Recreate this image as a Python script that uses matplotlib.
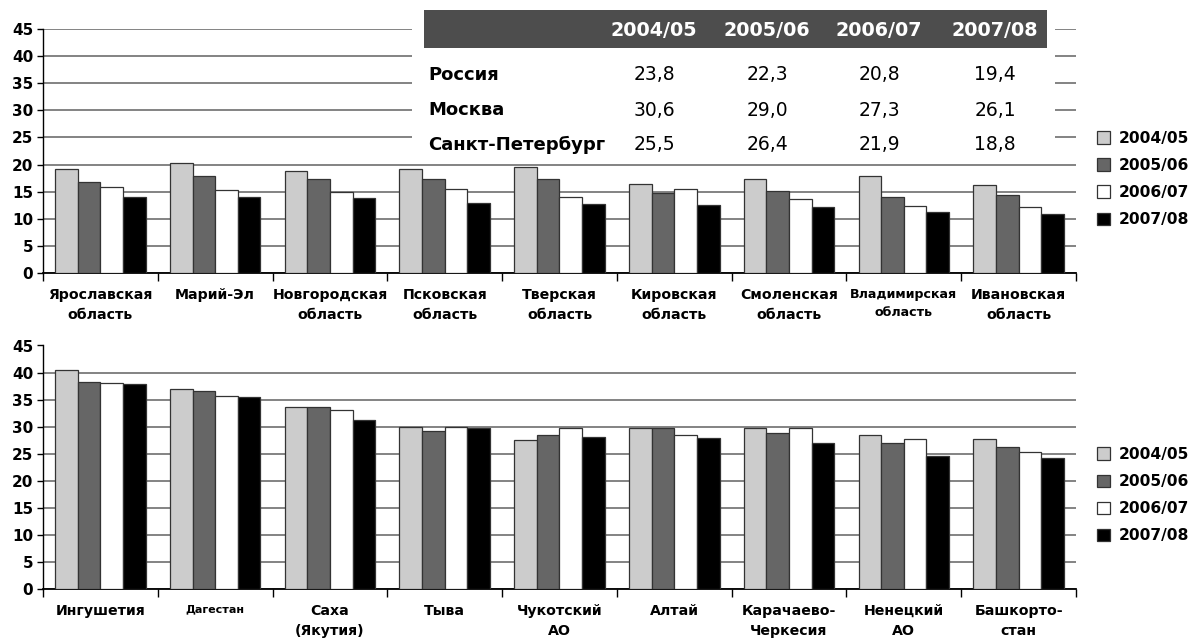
import matplotlib
matplotlib.use("Agg")
import matplotlib.pyplot as plt
from matplotlib.patches import Rectangle
import numpy as np

# seasons (legend + table header)
seasons = ["2004/05", "2005/06", "2006/07", "2007/08"]
colors = ["#cccccc", "#666666", "#ffffff", "#000000"]

# upper chart: lowest values
top_regions = ["Ярославская\nобласть", "Марий-Эл", "Новгородская\nобласть",
               "Псковская\nобласть", "Тверская\nобласть", "Кировская\nобласть",
               "Смоленская\nобласть", "Владимирская\nобласть", "Ивановская\nобласть"]
top_0405 = [19.2, 20.2, 18.9, 19.2, 19.5, 16.5, 17.4, 17.8, 16.2]
top_0506 = [16.8, 17.8, 17.4, 17.4, 17.3, 14.7, 15.1, 14.1, 14.4]
top_0607 = [15.8, 15.3, 14.9, 15.5, 14.1, 15.5, 13.7, 12.3, 12.2]
top_0708 = [14.1, 14.1, 13.8, 13.0, 12.8, 12.5, 12.2, 11.2, 10.9]

# lower chart: highest values
bot_regions = ["Ингушетия", "Дагестан", "Саха\n(Якутия)", "Тыва", "Чукотский\nАО",
               "Алтай", "Карачаево-\nЧеркесия", "Ненецкий\nАО", "Башкорто-\nстан"]
bot_0405 = [40.4, 36.9, 33.7, 29.9, 27.5, 29.8, 29.8, 28.4, 27.8]
bot_0506 = [38.3, 36.6, 33.6, 29.2, 28.5, 29.8, 28.9, 26.9, 26.2]
bot_0607 = [38.0, 35.7, 33.1, 29.9, 29.8, 28.4, 29.8, 27.8, 25.4]
bot_0708 = [37.9, 35.5, 31.3, 29.8, 28.1, 27.9, 26.9, 24.5, 24.2]

# inset table
table_rows = ["Россия", "Москва", "Санкт-Петербург"]
russia = [23.8, 22.3, 20.8, 19.4]
moscow = [30.6, 29.0, 27.3, 26.1]
spb = [25.5, 26.4, 21.9, 18.8]

W, H = 1189, 642
fig = plt.figure(figsize=(W / 100, H / 100), dpi=100)
FONT = "DejaVu Sans"


def draw(ax, regions, series, small=None):
    small = small or {}
    x = np.arange(len(regions))
    bw = 0.197
    for i, vals in enumerate(series):
        ax.bar(x + (i - 1.5) * bw, vals, bw, color=colors[i],
               edgecolor="#333333", linewidth=0.9, zorder=3, label=seasons[i])
    ax.set_xlim(-0.5, len(regions) - 0.5)
    ax.set_ylim(0, 45)
    ax.set_yticks(range(0, 46, 5))
    ax.yaxis.grid(True, color="#7a7a7a", linewidth=1.3)
    ax.set_axisbelow(True)
    for s in ["top", "right"]:
        ax.spines[s].set_visible(False)
    ax.spines["left"].set_linewidth(1.0)
    ax.spines["bottom"].set_linewidth(1.3)
    ax.tick_params(axis="y", length=4, width=1, pad=3, labelsize=11)
    for lbl in ax.get_yticklabels():
        lbl.set_fontweight("bold")
    ax.set_xticks(x)
    ax.set_xticklabels(regions, fontsize=10.2, fontweight="bold", linespacing=1.5)
    ax.set_xticks(np.arange(-0.5, len(regions), 1.0), minor=True)
    ax.tick_params(axis="x", which="major", length=0, pad=11)
    ax.tick_params(axis="x", which="minor", length=6, width=1)
    for lbl in ax.get_xticklabels():
        lbl.set_verticalalignment("top")
        first = lbl.get_text().split("\n")[0]
        if first in small:
            lbl.set_fontsize(small[first])
    ax.legend(loc="upper left", bbox_to_anchor=(1.02, 0.583), frameon=False,
              prop={"family": FONT, "weight": "bold", "size": 11.2},
              handlelength=0.85, handleheight=0.85, handletextpad=0.55,
              labelspacing=0.78, borderaxespad=0, borderpad=0)
    return ax


ax1 = fig.add_axes([43 / W, 1 - 273 / H, 1033 / W, 244 / H])
draw(ax1, top_regions, [top_0405, top_0506, top_0607, top_0708],
     small={"Владимирская": 9.1})
ax2 = fig.add_axes([43 / W, 1 - 589 / H, 1033 / W, 243.5 / H])
draw(ax2, bot_regions, [bot_0405, bot_0506, bot_0607, bot_0708],
     small={"Дагестан": 8.0})

# overlay in pixel coordinates for the inset table
ov = fig.add_axes([0, 0, 1, 1], zorder=10)
ov.set_xlim(0, W)
ov.set_ylim(H, 0)
ov.axis("off")
ov.add_patch(Rectangle((412, 0), 643, 158, facecolor="white", edgecolor="none"))
ov.add_patch(Rectangle((424, 10), 623, 38, facecolor="#4d4d4d", edgecolor="none"))
col_x = [654, 767, 879, 995]
for cx, s in zip(col_x, seasons):
    ov.text(cx, 30, s, color="white", fontsize=13.8, fontweight="bold",
            ha="center", va="center")
for ry, name, vals in zip([75, 110, 145], table_rows, [russia, moscow, spb]):
    ov.text(428, ry, name, fontsize=13, fontweight="bold", ha="left", va="center")
    for cx, v in zip(col_x, vals):
        ov.text(cx, ry, f"{v:.1f}".replace(".", ","), fontsize=13.5,
                ha="center", va="center")

fig.savefig("out.png", dpi=100)
